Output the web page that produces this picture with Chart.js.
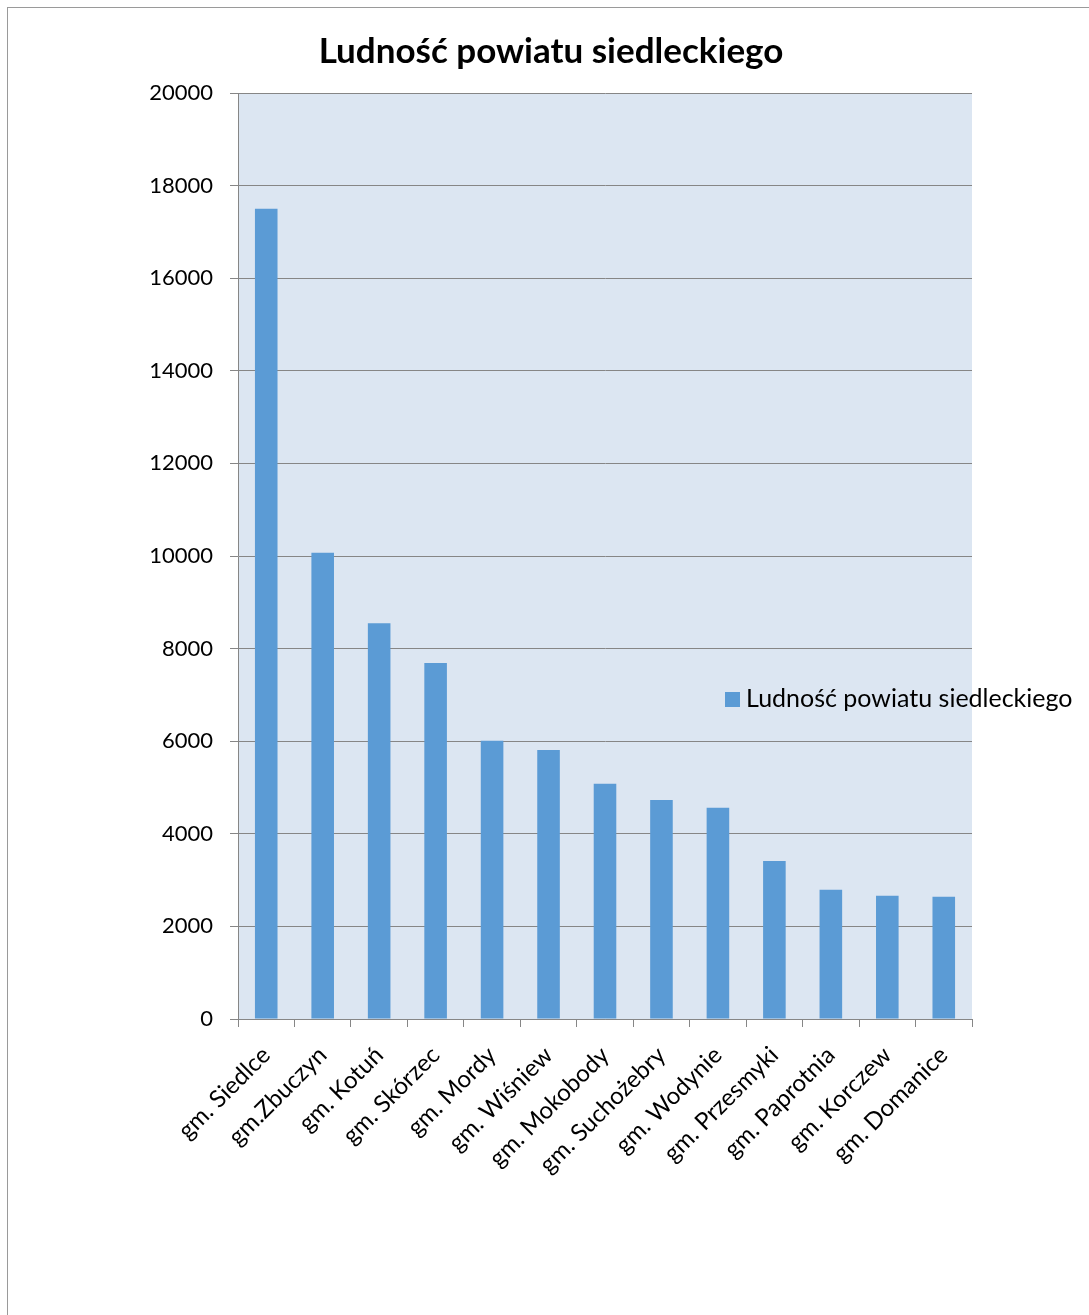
<!DOCTYPE html>
<html>
<head>
<meta charset="utf-8">
<script src="https://cdn.jsdelivr.net/npm/chart.js@4/dist/chart.umd.min.js"></script>
<style>
    html, body { margin: 0; padding: 0; background: #fff; overflow: hidden; }
    .chart-frame {
        position: absolute; left: 7px; top: 7px;
        width: 1100px; height: 1330px;
        border: 1px solid #9a9a9a;
    }
    .chart-box {
        position: absolute; left: 7px; top: 7px;
        width: 1088px; height: 1320px;
    }
</style>
</head>
<body>
<div class="chart-frame"></div>
<div class="chart-box"><canvas id="populationChart"></canvas></div>
<script>
const chartTitle = 'Ludność powiatu siedleckiego';
const gminy = [
    'gm. Siedlce', 'gm.Zbuczyn', 'gm. Kotuń', 'gm. Skórzec', 'gm. Mordy', 'gm. Wiśniew',
    'gm. Mokobody', 'gm. Suchożebry', 'gm. Wodynie', 'gm. Przesmyki', 'gm. Paprotnia',
    'gm. Korczew', 'gm. Domanice'
];
const ludnosc = [17500, 10070, 8550, 7690, 6010, 5810, 5080, 4730, 4560, 3410, 2790, 2660, 2640];
const yTicks = [0, 2000, 4000, 6000, 8000, 10000, 12000, 14000, 16000, 18000, 20000];

const fontFamily = 'Lato, "Open Sans", sans-serif';

const plotBackground = {
    id: 'plotBackground',
    beforeDraw(chart) {
        const { ctx, chartArea: a } = chart;
        ctx.save();
        ctx.fillStyle = '#dce6f2';
        ctx.fillRect(a.left, a.top, a.right - a.left, a.bottom - a.top);
        ctx.restore();
    }
};

// legend sits over the right edge of the plot, like the original
const floatingLegend = {
    id: 'floatingLegend',
    afterDraw(chart) {
        const { ctx, chartArea: a } = chart;
        const ds = chart.data.datasets[0];
        const x = a.right - 247;
        const y = a.top + 606;
        ctx.save();
        ctx.fillStyle = ds.backgroundColor;
        ctx.fillRect(x, y - 7, 15, 15);
        ctx.fillStyle = '#000';
        ctx.font = '25px ' + fontFamily;
        ctx.textBaseline = 'middle';
        ctx.textAlign = 'left';
        ctx.fillText(ds.label, x + 21, y);
        ctx.restore();
    }
};

new Chart(document.getElementById('populationChart'), {
    type: 'bar',
    data: {
        labels: gminy,
        datasets: [{
            label: chartTitle,
            data: ludnosc,
            backgroundColor: '#5b9bd5',
            borderWidth: 0,
            barPercentage: 0.4,
            categoryPercentage: 1
        }]
    },
    options: {
        responsive: true,
        maintainAspectRatio: false,
        animation: false,
        layout: { padding: 0 },
        plugins: {
            legend: { display: false },
            tooltip: { enabled: false },
            title: {
                display: true,
                text: chartTitle,
                color: '#000',
                font: { family: fontFamily, size: 35, weight: 'bold', lineHeight: 1.2 },
                padding: { top: 24, bottom: 20 }
            }
        },
        scales: {
            x: {
                grid: { display: true, drawOnChartArea: false, color: '#868686', tickLength: 8, offset: true },
                border: { color: '#868686' },
                ticks: {
                    color: '#000',
                    font: { family: fontFamily, size: 24 },
                    minRotation: 45,
                    maxRotation: 45,
                    autoSkip: false,
                    padding: 14
                },
                afterFit(scale) { scale.height = 1320 - 1012; }
            },
            y: {
                min: 0,
                max: 20000,
                afterBuildTicks(scale) { scale.ticks = yTicks.map(v => ({ value: v })); },
                grid: { color: '#868686', tickLength: 8 },
                border: { color: '#868686' },
                ticks: {
                    color: '#000',
                    font: { family: fontFamily, size: 22 },
                    padding: 17,
                    callback: (v) => String(v)
                },
                afterFit(scale) { scale.width = 231; }
            },
            // empty right-hand space where the legend overhangs
            yRight: {
                position: 'right',
                min: 0,
                max: 20000,
                grid: { display: false },
                border: { display: false },
                ticks: { display: false },
                afterFit(scale) { scale.width = 1088 - 965; }
            }
        }
    },
    plugins: [plotBackground, floatingLegend]
});
</script>
</body>
</html>
